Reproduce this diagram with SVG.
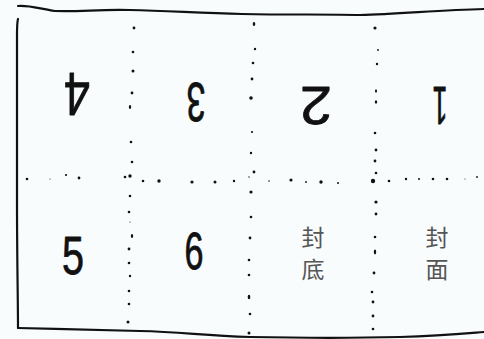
<svg xmlns="http://www.w3.org/2000/svg" width="484" height="339" viewBox="0 0 484 339">
<style>
.edge{fill:none;stroke:#111;stroke-width:2.2;stroke-linecap:round;stroke-linejoin:round}
.dot{fill:#111}
.hand{font-family:"Liberation Sans","DejaVu Sans",sans-serif;fill:#111;stroke:#111;stroke-width:0.8;stroke-linejoin:round;text-anchor:middle}
.cjk{font-family:"Noto Sans CJK SC","Noto Sans CJK JP",sans-serif;font-size:23px;fill:#555;text-anchor:middle}
</style>
<rect x="0" y="0" width="484" height="339" fill="#f8fcfd"/>
<g id="frame">
<path class="edge" d="M18,6 C30,5 40,9 55,11 C80,12 100,9 130,10 C170,11 200,13 242,14 C290,15 330,14 360,15 C400,14 440,10 484,9"/>
<path class="edge" d="M18,19 C17,22 17,28 17,36 L17,200 C17,260 18,300 18,328"/>
<path class="edge" d="M18,328 C60,329 110,330 140,331 C180,332 200,335 250,337 C300,338 360,338 400,337 C440,336 460,334 484,332"/>
</g>
<g id="fold-lines">
<g id="fold-v1">
<circle class="dot" cx="134" cy="28" r="1.4"/><circle class="dot" cx="133" cy="52" r="1.3"/><circle class="dot" cx="133" cy="71" r="1.5"/><circle class="dot" cx="132" cy="93" r="1.4"/><ellipse class="dot" cx="130" cy="107" rx="1.2" ry="1.9"/><circle class="dot" cx="131" cy="142" r="1.3"/><circle class="dot" cx="132" cy="162" r="1.3"/><circle class="dot" cx="130" cy="176" r="1.7"/><circle class="dot" cx="130" cy="196" r="1.3"/><circle class="dot" cx="129" cy="212" r="1.3"/><circle class="dot" cx="130" cy="222" r="0.6"/><ellipse class="dot" cx="132" cy="236" rx="1.2" ry="1.9"/><circle class="dot" cx="129" cy="249" r="1.4"/><circle class="dot" cx="129" cy="263" r="1.3"/><circle class="dot" cx="130" cy="276" r="1.2"/><circle class="dot" cx="129" cy="291" r="1.3"/><circle class="dot" cx="129" cy="304" r="1.3"/><circle class="dot" cx="128" cy="322" r="1.5"/>
</g>
<g id="fold-v2">
<ellipse class="dot" cx="254" cy="24" rx="1.3" ry="1.9"/><circle class="dot" cx="255" cy="49" r="1.2"/><circle class="dot" cx="253" cy="63" r="1.3"/><circle class="dot" cx="252" cy="79" r="1.4"/><circle class="dot" cx="251" cy="98" r="1.8"/><circle class="dot" cx="252" cy="132" r="1.1"/><circle class="dot" cx="251" cy="153" r="1.2"/><circle class="dot" cx="254" cy="172" r="1.4"/><circle class="dot" cx="249" cy="177" r="0.7"/><circle class="dot" cx="251" cy="192" r="1.6"/><circle class="dot" cx="251" cy="217" r="1.3"/><circle class="dot" cx="250" cy="238" r="1.4"/><circle class="dot" cx="249" cy="260" r="1.3"/><circle class="dot" cx="249" cy="275" r="1.3"/><ellipse class="dot" cx="249" cy="297" rx="1.3" ry="2.3"/><circle class="dot" cx="250" cy="314" r="1.3"/><circle class="dot" cx="249" cy="333" r="1.5"/>
</g>
<g id="fold-v3">
<circle class="dot" cx="375" cy="28" r="1.6"/><circle class="dot" cx="378" cy="50" r="0.9"/><circle class="dot" cx="377" cy="64" r="1.2"/><ellipse class="dot" cx="376" cy="91" rx="1" ry="1.7"/><ellipse class="dot" cx="376" cy="102" rx="1.2" ry="1.8"/><circle class="dot" cx="375" cy="133" r="1.3"/><circle class="dot" cx="376" cy="150" r="1.4"/><circle class="dot" cx="375" cy="161" r="1.4"/><circle class="dot" cx="376" cy="173" r="1.3"/><circle class="dot" cx="373" cy="181" r="2.2"/><circle class="dot" cx="376" cy="202" r="1.6"/><circle class="dot" cx="376" cy="214" r="1.4"/><circle class="dot" cx="375" cy="237" r="1.3"/><ellipse class="dot" cx="375" cy="252" rx="1.2" ry="2.4"/><circle class="dot" cx="374" cy="273" r="1.4"/><circle class="dot" cx="372" cy="292" r="1.3"/><circle class="dot" cx="373" cy="302" r="1.4"/><circle class="dot" cx="373" cy="316" r="1.4"/><circle class="dot" cx="373" cy="329" r="1.3"/>
</g>
<g id="fold-h">
<circle class="dot" cx="27" cy="179" r="1.3"/><circle class="dot" cx="50" cy="179" r="0.6"/><circle class="dot" cx="66" cy="175" r="1.1"/><circle class="dot" cx="79" cy="178" r="1.4"/><circle class="dot" cx="125" cy="177" r="1.3"/><circle class="dot" cx="143" cy="181" r="1.3"/><circle class="dot" cx="159" cy="181" r="1.7"/><circle class="dot" cx="192" cy="182" r="1.6"/><circle class="dot" cx="215" cy="182" r="1.5"/><circle class="dot" cx="234" cy="181" r="1.2"/><circle class="dot" cx="269" cy="181" r="0.8"/><circle class="dot" cx="291" cy="180" r="1.6"/><circle class="dot" cx="306" cy="182" r="0.9"/><circle class="dot" cx="321" cy="182" r="1.7"/><circle class="dot" cx="338" cy="183" r="1"/><circle class="dot" cx="389" cy="181" r="1.3"/><circle class="dot" cx="406" cy="179" r="1.2"/><circle class="dot" cx="419" cy="179" r="1"/><circle class="dot" cx="433" cy="179" r="1.3"/><circle class="dot" cx="447" cy="179" r="1.3"/><circle class="dot" cx="465" cy="179" r="0.5"/><circle class="dot" cx="477" cy="177" r="0.9"/>
</g>
</g>
<g id="page-4"><text class="hand" font-size="62" x="77" y="117" transform="rotate(180 77 95)" textLength="26" lengthAdjust="spacingAndGlyphs">4</text></g>
<g id="page-3"><text class="hand" font-size="55" x="196" y="123" transform="rotate(180 196 103)" textLength="19" lengthAdjust="spacingAndGlyphs">3</text></g>
<g id="page-2"><text class="hand" font-size="54" x="316" y="125" transform="rotate(180 316 106)" textLength="32" lengthAdjust="spacingAndGlyphs">2</text></g>
<g id="page-1"><text class="hand" font-size="54" x="440" y="127" transform="rotate(180 440 107)" textLength="15" lengthAdjust="spacingAndGlyphs">1</text></g>
<g id="page-5"><text class="hand" font-size="54" x="73" y="274" textLength="22" lengthAdjust="spacingAndGlyphs">5</text></g>
<g id="page-6"><text class="hand" font-size="52" x="194" y="269" textLength="19" lengthAdjust="spacingAndGlyphs">6</text></g>
<g id="back-cover"><text class="cjk" x="313" y="246">封<tspan x="313" dy="32">底</tspan></text></g>
<g id="front-cover"><text class="cjk" x="437" y="246">封<tspan x="437" dy="32">面</tspan></text></g>
</svg>
